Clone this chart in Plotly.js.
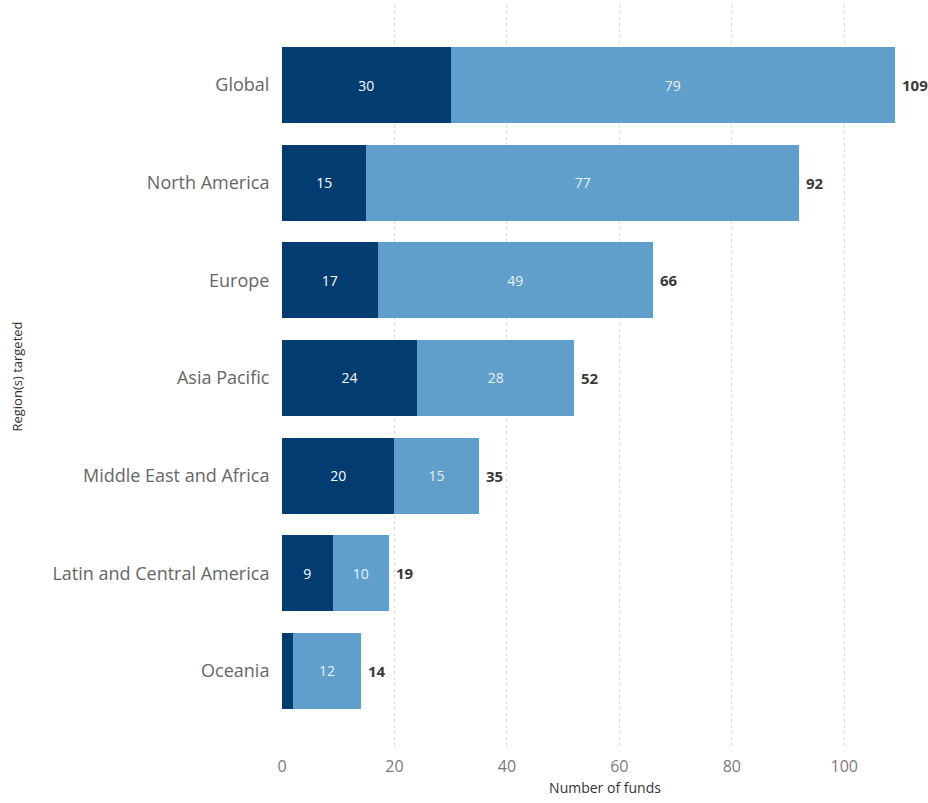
<!DOCTYPE html>
<html>
<head>
<meta charset="utf-8">
<script src="https://cdn.plot.ly/plotly-3.0.1.min.js"></script>
<style>html,body{margin:0;padding:0;background:#fff;}#chart{width:928px;height:803px;}</style>
</head>
<body>
<div id="chart"></div>
<script>
const regions = ["Global", "North America", "Europe", "Asia Pacific", "Middle East and Africa", "Latin and Central America", "Oceania"];
const darkValues = [30, 15, 17, 24, 20, 9, 2];
const lightValues = [79, 77, 49, 28, 15, 10, 12];
const totals = darkValues.map((v, i) => v + lightValues[i]);
const xTicks = [0, 20, 40, 60, 80, 100];

const FONT = '"Segoe UI", "Open Sans", "Noto Sans", sans-serif';

const labelFor = v => (v >= 5 ? String(v) : '');

const traces = [
  {
    type: 'bar', orientation: 'h', y: regions, x: darkValues,
    marker: {color: '#023c71'},
    text: darkValues.map(labelFor), textposition: 'inside', insidetextanchor: 'middle',
    textfont: {family: FONT, size: 14, color: '#ffffff'},
    constraintext: 'none', hoverinfo: 'x+y', name: 'Dark'
  },
  {
    type: 'bar', orientation: 'h', y: regions, x: lightValues,
    marker: {color: '#609fcc'},
    text: lightValues.map(labelFor), textposition: 'inside', insidetextanchor: 'middle',
    textfont: {family: FONT, size: 14, color: '#e9f1f8'},
    constraintext: 'none', hoverinfo: 'x+y', name: 'Light'
  }
];

const annotations = regions.map((r, i) => ({
  x: totals[i], y: r, xref: 'x', yref: 'y',
  text: '<b>' + totals[i] + '</b>', showarrow: false,
  xanchor: 'left', xshift: 5,
  font: {family: FONT, size: 15, color: '#3a3a3a'}
}));

const layout = {
  width: 928, height: 803,
  margin: {l: 282, r: 0, t: 5, b: 55},
  paper_bgcolor: '#ffffff', plot_bgcolor: '#ffffff',
  barmode: 'stack', bargap: 0.22,
  showlegend: false,
  font: {family: FONT},
  xaxis: {
    range: [0, 114.9], tickvals: xTicks, ticktext: xTicks.map(String),
    showgrid: true, gridcolor: '#dcdcdc', griddash: 'dot', gridwidth: 1,
    zeroline: false, showline: false,
    ticks: 'outside', ticklen: 4, tickcolor: 'rgba(0,0,0,0)',
    tickfont: {family: FONT, size: 16, color: '#7a7a7a'},
    title: {text: 'Number of funds', font: {family: FONT, size: 14, color: '#333333'}, standoff: 6}
  },
  yaxis: {
    type: 'category', range: [6.79, -0.82],
    showgrid: false, zeroline: false, showline: false,
    ticks: 'outside', ticklen: 8, tickcolor: 'rgba(0,0,0,0)',
    tickfont: {family: FONT, size: 18, color: '#666666'},
    title: {text: 'Region(s) targeted', font: {family: FONT, size: 13, color: '#333333'}, standoff: 26}
  },
  annotations: annotations
};

Plotly.newPlot('chart', traces, layout, {displayModeBar: false, staticPlot: true});
</script>
</body>
</html>
